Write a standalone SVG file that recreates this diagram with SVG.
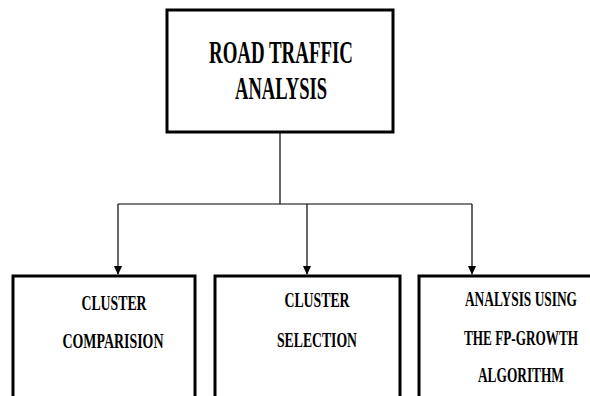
<svg xmlns="http://www.w3.org/2000/svg" width="590" height="396" viewBox="0 0 590 396">
<style>
.box{fill:#fff;stroke:#000;stroke-width:3}
.t{font-family:"Liberation Serif","Times New Roman",serif;font-weight:bold;fill:#000;text-anchor:middle}
.big{font-size:31px}
.sm{font-size:20px}
.ln{stroke:#000;stroke-width:1.2;fill:none}
</style>
<defs>
<marker id="ah" markerWidth="10" markerHeight="10" refX="8" refY="5" orient="auto" markerUnits="userSpaceOnUse">
<path d="M0,1 L9,5 L0,9 Z" fill="#000"/>
</marker>
</defs>
<g id="connectors">
<path class="ln" d="M280,132 V204"/>
<path class="ln" d="M118,204 H472"/>
<path class="ln" d="M118,204 V274" marker-end="url(#ah)"/>
<path class="ln" d="M307,204 V274" marker-end="url(#ah)"/>
<path class="ln" d="M472,204 V274" marker-end="url(#ah)"/>
</g>
<g id="root">
<rect class="box" x="167" y="10" width="226" height="122"/>
<text class="t big" transform="scale(0.65,1)" x="432.3" y="63" textLength="221.5" lengthAdjust="spacingAndGlyphs">ROAD TRAFFIC</text>
<text class="t big" transform="scale(0.65,1)" x="432.3" y="99" textLength="141.5" lengthAdjust="spacingAndGlyphs">ANALYSIS</text>
</g>
<g id="cluster-comparision">
<rect class="box" x="13" y="276" width="182" height="130"/>
<text class="t sm" transform="scale(0.65,1)" x="175.4" y="310" textLength="100" lengthAdjust="spacingAndGlyphs">CLUSTER</text>
<text class="t sm" transform="scale(0.65,1)" x="173.8" y="348" textLength="155.4" lengthAdjust="spacingAndGlyphs">COMPARISION</text>
</g>
<g id="cluster-selection">
<rect class="box" x="215" y="276" width="185" height="130"/>
<text class="t sm" transform="scale(0.65,1)" x="487.7" y="307" textLength="100" lengthAdjust="spacingAndGlyphs">CLUSTER</text>
<text class="t sm" transform="scale(0.65,1)" x="487.7" y="347" textLength="123.1" lengthAdjust="spacingAndGlyphs">SELECTION</text>
</g>
<g id="fp-growth">
<path class="box" d="M590,276 H419 V400"/>
<text class="t sm" transform="scale(0.65,1)" x="801.5" y="306" textLength="172.3" lengthAdjust="spacingAndGlyphs">ANALYSIS USING</text>
<text class="t sm" transform="scale(0.65,1)" x="801.5" y="345" textLength="175.4" lengthAdjust="spacingAndGlyphs">THE FP-GROWTH</text>
<text class="t sm" transform="scale(0.65,1)" x="801.5" y="382" textLength="132.3" lengthAdjust="spacingAndGlyphs">ALGORITHM</text>
</g>
</svg>
